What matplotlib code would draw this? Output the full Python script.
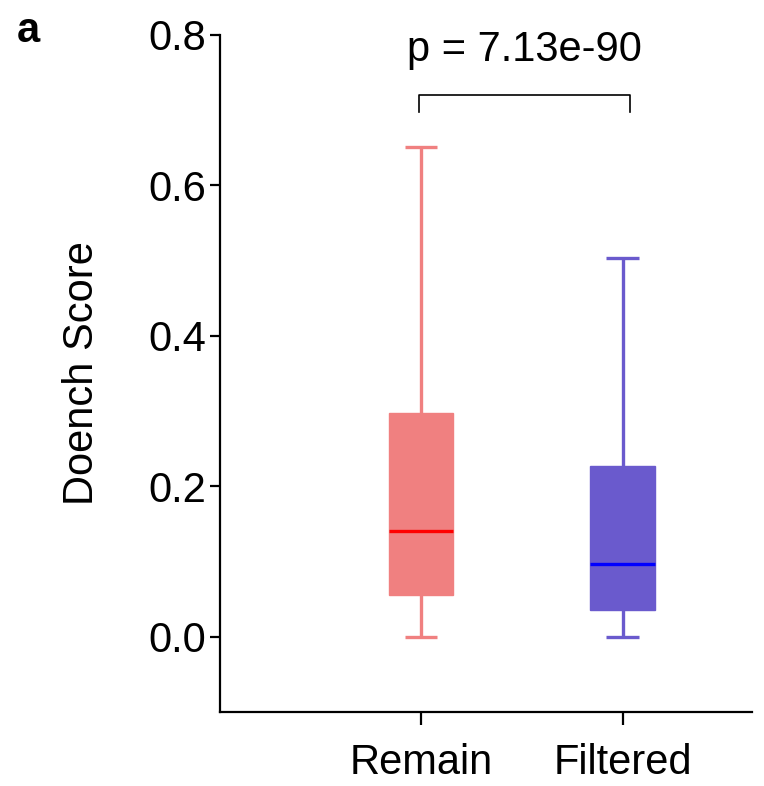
import matplotlib
matplotlib.use("Agg")
import matplotlib.pyplot as plt

plt.rcParams['font.family'] = ['Liberation Sans', 'DejaVu Sans']

# box statistics
groups = ["Remain", "Filtered"]
whisker_low = [0.0, 0.0]
q1 = [0.056, 0.036]
median = [0.140, 0.097]
q3 = [0.297, 0.227]
whisker_high = [0.651, 0.504]

box_colors = ["#F08080", "#6A5ACD"]
median_colors = ["#FF0000", "#0000FF"]

p_text = "p = 7.13e-90"
bracket_y = 0.72
bracket_drop = 0.023

fig = plt.figure(figsize=(7.64, 7.86), dpi=100)
ax = fig.add_axes([0.288, 0.0941, 0.696, 0.8614])

stats = []
for i, g in enumerate(groups):
    stats.append(dict(label=g, whislo=whisker_low[i], q1=q1[i], med=median[i],
                      q3=q3[i], whishi=whisker_high[i], fliers=[]))

positions = list(range(len(groups)))
bp = ax.bxp(stats, positions=positions, widths=0.32, capwidths=0.16,
            patch_artist=True, showfliers=False)

for i in range(len(groups)):
    bp['boxes'][i].set_facecolor(box_colors[i])
    bp['boxes'][i].set_edgecolor(box_colors[i])
    bp['boxes'][i].set_linewidth(1)
    bp['medians'][i].set_color(median_colors[i])
    bp['medians'][i].set_linewidth(2.4)
    for ln in bp['whiskers'][2 * i:2 * i + 2] + bp['caps'][2 * i:2 * i + 2]:
        ln.set_color(box_colors[i])
        ln.set_linewidth(2.4)
        ln.set_solid_capstyle('butt')

# significance bracket
x1, x2 = -0.01, 1.035
ax.plot([x1, x1, x2, x2], [bracket_y - bracket_drop, bracket_y, bracket_y, bracket_y - bracket_drop],
        color='black', lw=1.2, clip_on=False)
ax.text((x1 + x2) / 2, 0.765, p_text, ha='center', va='baseline', fontsize=30)

ax.set_xlim(-0.995, 1.64)
ax.set_ylim(-0.1, 0.8)
ax.set_yticks([0.0, 0.2, 0.4, 0.6, 0.8])
ax.set_yticklabels(["0.0", "0.2", "0.4", "0.6", "0.8"])
ax.set_xticks(positions)
ax.set_xticklabels(groups)

ax.spines['top'].set_visible(False)
ax.spines['right'].set_visible(False)
ax.spines['left'].set_bounds(-0.1, 0.8)
for s in ['left', 'bottom']:
    ax.spines[s].set_linewidth(1.6)

ax.tick_params(axis='y', labelsize=30, length=7, width=1.6, pad=3)
ax.tick_params(axis='x', labelsize=30, length=9, width=1.6, pad=13)

ax.set_ylabel("Doench Score", fontsize=30)
ax.yaxis.set_label_coords(-0.222, 0.5)

fig.text(0.022, 1 - 42 / 786, "a", fontsize=30, fontweight='bold', va='baseline')

fig.savefig("out.png", dpi=100)
